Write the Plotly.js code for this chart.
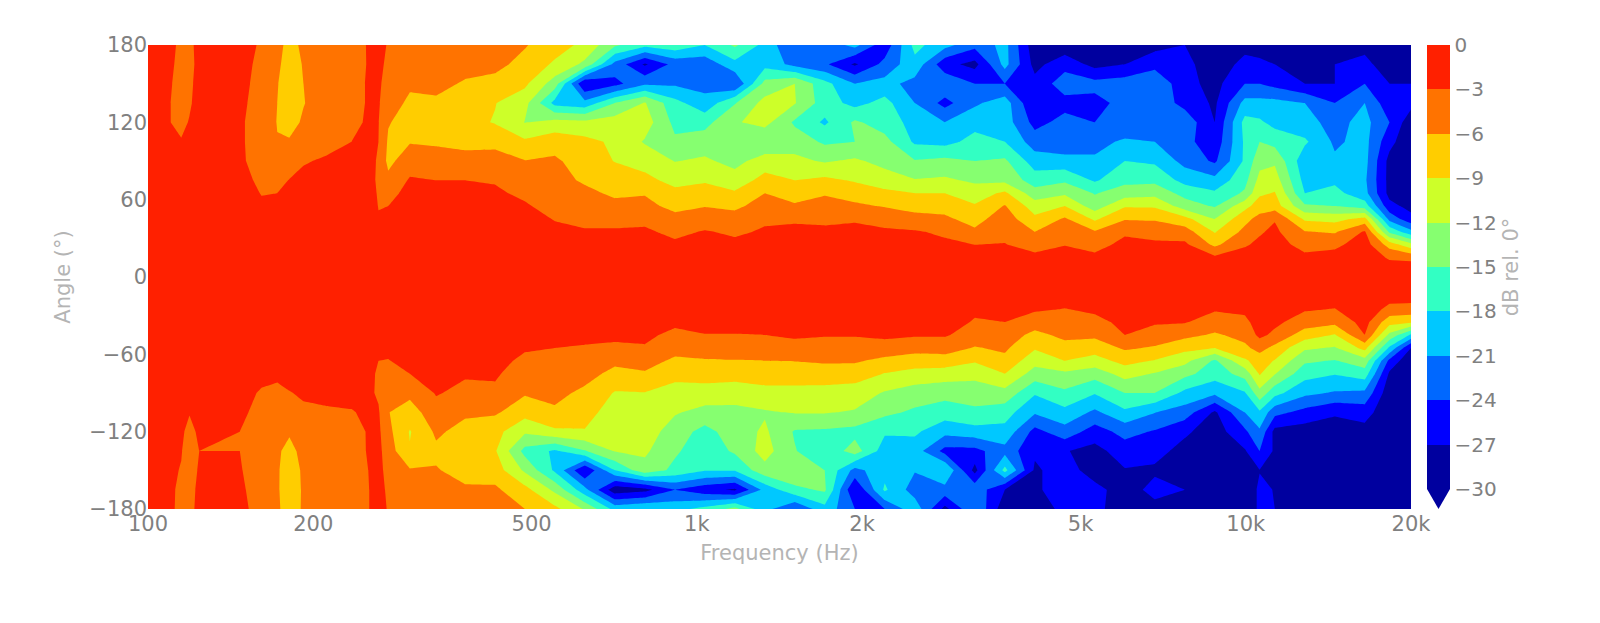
<!DOCTYPE html>
<html>
<head>
<meta charset="utf-8">
<script src="https://cdn.plot.ly/plotly-3.0.1.min.js"></script>
<style>
  html, body { margin: 0; padding: 0; background: #fff; }
  #chart { width: 1600px; height: 623px; }
</style>
</head>
<body>
<div id="chart"></div>
<script>
const angles = [180,165,150,135,120,105,90,75,65,55,45,35,25,15,0,-15,-25,-35,-45,-55,-65,-75,-90,-105,-120,-135,-150,-165,-180];

const freqs = [100,110,115,119,124,147,161,172,181,192,211,235,252,263,274,300,335,378,429,486,551,625,709,804,912,1034,1173,1330,1508,1710,1940,2199,2495,2830,3209,3640,4128,4681,5309,6021,6828,7744,8782,9960,10600,11296,12810,14528,16476,18280,20000];

// dB rel. 0 deg, one line per frequency, angles from +180 down to -180
const dbByFreq = [
  [-2,-2,-2,-2,-2,-2,-1.5,-1.5,-1,-1,-1,-.5,-.5,-.3,0,-.3,-.5,-.5,-1,-1,-1,-1.5,-1.5,-2,-2,-2,-2,-2,-2],
  [-2.5,-2.7,-2.9,-3,-3,-2.5,-2,-1.7,-1.2,-1,-1,-.6,-.5,-.3,0,-.3,-.5,-1,-1,-1,-1.5,-1.5,-2,-2.3,-2.5,-2.6,-2.7,-2.7,-2.7],
  [-3.5,-3.6,-3.6,-3.6,-3.4,-2.9,-2.2,-1.8,-1.3,-1,-1,-.6,-.5,-.3,0,-.3,-.5,-1,-1,-1,-1.5,-1.5,-2,-2.4,-2.7,-2.9,-3.1,-3.4,-3.5],
  [-3.3,-3.4,-3.3,-3.2,-2.9,-2.5,-2,-1.7,-1.2,-1,-1,-.6,-.5,-.3,0,-.3,-.5,-1,-1,-1,-1.5,-1.5,-2.2,-2.9,-3.5,-3.9,-3.8,-3.6,-3.5],
  [-2.6,-2.6,-2.5,-2.4,-2.3,-2,-1.8,-1.5,-1.2,-1,-.9,-.6,-.5,-.3,0,-.3,-.5,-1,-1,-1,-1.5,-1.5,-1.8,-2.2,-2.7,-3,-2.8,-2.6,-2.5],
  [-2,-2,-2.2,-2.4,-2.6,-2.6,-2.6,-2.2,-1.8,-1.5,-1.2,-.8,-.5,-.3,0,-.3,-.5,-1,-1,-1,-1.5,-1.5,-2,-2.6,-3,-3,-2.8,-2.5,-2.3],
  [-3.3,-3.7,-3.9,-4.1,-4.3,-4.3,-4,-3.5,-3.1,-2.6,-2.2,-1.8,-1.5,-.8,0,-.3,-.7,-1,-1.1,-1.3,-1.7,-2.2,-3.3,-3.6,-3.9,-4.3,-4.4,-4.3,-4],
  [-5.5,-5.7,-5.9,-6,-6.1,-5.9,-5,-3.8,-3,-2.4,-2,-1.6,-1.3,-.7,0,-.4,-.8,-1,-1.2,-1.4,-1.7,-2.5,-3.6,-4.2,-5,-5.5,-5.7,-5.7,-5.6],
  [-6.5,-6.7,-7,-7.1,-6.8,-5.8,-4.4,-2.9,-2.3,-1.9,-1.6,-1.3,-1,-.6,0,-.4,-.8,-1,-1.2,-1.4,-1.8,-2.2,-3.1,-4.2,-5.6,-7,-7.3,-7.4,-7.2],
  [-5.7,-5.9,-6,-6.1,-5.7,-4.5,-3.2,-2.4,-2,-1.7,-1.4,-1.2,-1,-.6,0,-.4,-.8,-1,-1.2,-1.4,-1.7,-2.1,-2.7,-3.4,-4.2,-5,-5.6,-5.7,-5.7],
  [-4.5,-4.6,-4.7,-4.8,-4.8,-3.8,-2.7,-2.1,-1.8,-1.5,-1.2,-1,-.8,-.5,0,-.4,-.7,-1,-1.2,-1.4,-1.7,-2.1,-2.6,-3.2,-3.7,-4,-4.2,-4.3,-4.3],
  [-3.6,-3.7,-3.8,-3.8,-3.6,-3,-2.7,-2.2,-1.8,-1.5,-1.2,-1,-.8,-.5,0,-.4,-.7,-1,-1.1,-1.3,-1.6,-2,-2.5,-3.1,-3.5,-3.6,-3.7,-3.7,-3.7],
  [-2.9,-2.9,-2.8,-2.8,-2.7,-2.6,-2.4,-2.1,-1.7,-1.4,-1.2,-1,-.7,-.4,0,-.4,-.7,-1,-1.1,-1.3,-1.6,-2,-2.4,-2.7,-2.9,-2.9,-3,-3.1,-3.1],
  [-2.2,-2.3,-2.5,-2.7,-2.9,-3,-3.2,-3.4,-3.3,-3.1,-2.8,-2.3,-1.8,-1,0,-.5,-.7,-1,-1.5,-2,-3,-3.5,-3.4,-2.7,-2.4,-2.2,-2.1,-2,-2],
  [-3.2,-3.6,-4.2,-4.8,-5.8,-6.4,-6.8,-5.2,-3.9,-3,-2.3,-1.8,-1.5,-1,0,-.6,-.8,-1.2,-1.7,-2.4,-3.1,-4,-5.2,-5.9,-5.2,-4.5,-4,-3.5,-3.2],
  [-4.2,-4.8,-5.6,-6.5,-7.2,-6.2,-4.3,-2.7,-2.1,-1.7,-1.4,-1.2,-1,-.6,0,-.5,-.8,-1.1,-1.5,-1.8,-2.2,-3,-5.2,-7.5,-9.2,-8.8,-5.7,-4.8,-4.2],
  [-4,-4.4,-5.2,-6.5,-7.4,-6.4,-4.7,-3,-2.4,-1.9,-1.6,-1.3,-1,-.6,0,-.5,-.8,-1.1,-1.4,-1.7,-2,-2.4,-2.8,-4,-5.5,-6.6,-5.8,-4.7,-4.2],
  [-4,-5,-6.3,-7.2,-8,-6.8,-5,-3,-2.6,-2.1,-1.7,-1.3,-1,-.6,0,-.5,-.8,-1.1,-1.4,-1.7,-2.1,-2.7,-3.7,-5.5,-7,-7.5,-7,-5.6,-5],
  [-4,-5.3,-6.8,-8.9,-9.2,-6.8,-4.8,-3.2,-2.6,-2.2,-1.8,-1.4,-1.1,-.7,0,-.5,-.8,-1.1,-1.4,-1.8,-2.1,-2.6,-3.6,-5.6,-8,-8.7,-7.5,-5.5,-4.9],
  [-5.8,-6.8,-8.4,-11,-12.1,-8.5,-5.9,-4.4,-3.5,-2.7,-2.2,-1.8,-1.3,-.8,0,-.8,-1.1,-1.5,-2.2,-2.7,-3.6,-4.6,-5.7,-7.8,-11.5,-16,-12.5,-8,-6],
  [-7.6,-9.5,-13.5,-19,-10.9,-7.3,-5.5,-5,-4.7,-4,-3.1,-2.5,-2,-1.1,0,-.9,-1.3,-1.7,-2.3,-3,-3.7,-4.3,-5,-6.6,-9.5,-18.5,-18.5,-12.7,-8.2],
  [-9.8,-12.7,-27,-20,-11.2,-8.2,-7.5,-6.4,-5.3,-4.4,-3.5,-2.8,-2.2,-1.2,0,-.9,-1.3,-1.7,-2.1,-3.3,-3.9,-4.7,-6.8,-7.8,-9.2,-15.2,-27,-20,-12.3],
  [-14.5,-22,-25,-15,-10.5,-9.5,-9.1,-7.6,-6.5,-5.2,-3.8,-2.7,-2.2,-1.2,0,-1,-1.4,-1.8,-2.4,-3.5,-5.2,-7,-9.2,-10.5,-11,-11.8,-18,-29,-19],
  [-17,-27.5,-21.5,-11.8,-10.5,-12.3,-10,-8.3,-6.2,-5.2,-3.6,-2.6,-2,-1.1,0,-1,-1.4,-1.9,-2.5,-3.2,-4.9,-6.3,-9.1,-10.8,-10.4,-11.5,-13,-28,-18],
  [-16,-23,-21.5,-17,-15.8,-14.5,-12.1,-9.8,-8.3,-6.8,-5.1,-3.6,-2.5,-1.3,0,-1,-1.5,-2.5,-3.6,-5,-6.5,-8.2,-10,-11.7,-13.5,-14.5,-15.8,-24,-19],
  [-18,-23,-22,-20,-16,-13.5,-11.5,-9.3,-7.8,-6.1,-4.5,-2.8,-2,-1.1,0,-1,-1.5,-2,-3.1,-4.8,-6.2,-7.8,-10.2,-13,-16,-17,-17.8,-26,-17],
  [-14.5,-19,-24,-15.2,-12.3,-13.5,-13,-10.6,-8.6,-6.6,-4.8,-3.4,-2.4,-1.3,0,-1,-1.4,-2,-3.1,-4.7,-6.1,-7.6,-11,-12.6,-13.5,-14.5,-17.8,-27.5,-14],
  [-19,-19,-14,-11,-11,-14.7,-10.5,-8,-6,-4.8,-3.4,-2.7,-2,-1.1,0,-.9,-1.3,-1.8,-3,-4.4,-6,-7.6,-9.9,-12.3,-11.5,-10.8,-13,-20,-20],
  [-24,-22,-12,-11.8,-15.5,-13.3,-11.3,-9,-7.3,-5.6,-3.3,-2.5,-1.9,-1.1,0,-1,-1.6,-2.1,-2.7,-3.7,-5.9,-7.9,-9.7,-11.8,-15.3,-14.8,-12.3,-15.8,-24],
  [-23,-23.5,-17,-16.5,-18.5,-15.5,-12.3,-8.3,-6.3,-4.8,-3.4,-2.6,-2,-1.1,0,-1.1,-1.7,-2.2,-2.8,-4.2,-5.6,-7.5,-10,-11.8,-15.5,-17.5,-15,-14.5,-19],
  [-20,-27.5,-21,-19,-14.5,-15,-11.5,-9.3,-7.2,-5.5,-3.2,-2.5,-1.9,-1.1,0,-1.1,-1.7,-2.2,-2.8,-4.2,-5.6,-7.7,-10.3,-12.3,-16,-13.5,-22,-27,-24],
  [-26,-23,-20,-17,-16.5,-14,-13,-10.5,-8.3,-6.2,-3.9,-2.6,-2,-1.1,0,-1,-1.4,-1.9,-2.5,-4,-6.8,-9.1,-12.3,-14.3,-17.6,-19.5,-19,-17.5,-24],
  [-17,-19,-22,-21,-19,-18.5,-14.8,-11.8,-9,-7,-5,-2.7,-2,-1.1,0,-1,-1.5,-2,-2.7,-4.8,-7.5,-10,-13.5,-15.5,-17.5,-19.5,-20.8,-22.5,-19],
  [-20,-26,-21.5,-25,-21,-19,-14.2,-11.5,-9,-7,-5.5,-3.5,-2.4,-1.3,0,-1,-1.5,-2,-2.7,-4.7,-7.3,-10.5,-14,-16.5,-20,-25,-18,-22,-28],
  [-23,-28,-24,-21.5,-19,-17,-15,-12.5,-10.5,-8.7,-7,-5.5,-3,-1.6,0,-1.7,-2.6,-3.2,-4.3,-6.2,-8.7,-10.9,-13.9,-15.5,-19.2,-25,-28,-22,-21],
  [-20,-20,-24,-19.5,-19.5,-18,-14.5,-12.7,-8.4,-5.8,-4.5,-3.6,-2.9,-1.6,0,-1.7,-2.3,-3,-4.5,-5.5,-6.8,-9,-13,-16.7,-19,-22,-17,-27,-29],
  [-29,-28,-26,-27,-25,-22.5,-19.5,-16.5,-13.7,-10.5,-8.3,-6,-3.9,-2.4,0,-1.8,-2.6,-4.6,-6.8,-8.7,-10.9,-13.3,-17.7,-20.6,-25,-26.5,-27.5,-28,-29],
  [-29,-25,-22.5,-25,-23,-23,-20,-15.5,-12.5,-9,-5.6,-4.3,-3.1,-1.8,0,-1.9,-3.1,-4.2,-5.3,-7,-9,-12.6,-15.6,-18.9,-22.2,-26.8,-25.5,-24,-26],
  [-27,-28,-23,-25,-24,-22,-20.5,-18.4,-15.2,-13.6,-9.5,-5.7,-3.9,-2.4,0,-1.5,-2.5,-3.8,-5.4,-7.6,-10.2,-13.7,-17.8,-21.6,-25.4,-28,-28.5,-26,-26],
  [-28,-27,-22.5,-23,-23.5,-20.5,-18,-15.8,-13.5,-9.3,-6.2,-3.4,-2.3,-1.3,0,-1,-1.5,-2.3,-3,-5.6,-8,-10.8,-15,-18.6,-23,-25.5,-27.2,-28.5,-29],
  [-28,-25,-21.5,-22,-21,-21,-18.5,-15.7,-13,-9.4,-6.3,-4.2,-2.4,-1.3,0,-1.2,-2,-2.7,-4.2,-6.3,-9.2,-12.2,-15,-20.9,-24.3,-26,-27.5,-26,-28],
  [-27,-26,-26,-25,-22,-23,-22,-19,-16,-13.5,-8,-4.6,-2.4,-1.3,0,-1.2,-2,-2.8,-5.2,-8.1,-11.1,-14.1,-18.8,-22.4,-26.5,-28,-28,-27,-28.5],
  [-29,-29,-28,-27.5,-27,-26,-24.5,-20,-17.5,-15.3,-12,-9.2,-6.6,-2.4,0,-1.8,-2.7,-4.4,-6.4,-9,-15.5,-16.6,-20.4,-27.5,-28.5,-29,-29,-29,-29],
  [-28,-26,-24,-20,-17,-17.5,-17.5,-16,-14.5,-10,-6.9,-5.2,-3.3,-1.8,0,-1.4,-2.4,-3.7,-5.1,-6.6,-9.5,-13.8,-18.3,-21,-24.6,-27.3,-28.5,-29,-29],
  [-29,-26,-24,-20,-17.5,-15,-13,-11,-9.5,-7.5,-5,-3.3,-2.4,-1.4,0,-.8,-1.2,-1.7,-2.3,-5,-7.6,-8.7,-13,-18.5,-21.5,-24,-27.1,-26.5,-26.5],
  [-29,-27,-25,-20,-19,-16,-12.5,-10.5,-8.8,-7.5,-3.2,-2.4,-1.9,-1.2,0,-.8,-1.4,-2.3,-3.7,-6.8,-9.2,-11.8,-17,-23,-28,-27.5,-27.2,-27.1,-27],
  [-29,-28,-27,-21,-20,-17.5,-20,-19,-18,-14.5,-9.5,-5.8,-3.9,-2.4,0,-1.6,-2.7,-4.5,-7.5,-11.5,-14.5,-16.8,-20.3,-25,-28.5,-29,-29,-29,-29],
  [-29,-27,-27,-24,-22,-21.5,-20.5,-18.6,-17,-15,-10,-6.3,-3.6,-2,0,-1.6,-3.1,-5.2,-9.2,-12.3,-15.2,-17.8,-21.3,-26.6,-28.5,-29,-29,-29,-29],
  [-28,-26,-24,-21,-20,-20,-20,-20.5,-20,-16.5,-8,-2.6,-1.6,-1,0,-.8,-1.1,-1.9,-3,-8,-13.2,-16.4,-21.7,-25.6,-28.2,-29.5,-29.5,-29.5,-29.5],
  [-29,-29,-27,-26,-24,-26,-28,-28,-28,-26,-22,-15.5,-7.2,-3.4,0,-1.8,-3.9,-7.9,-12.8,-18.6,-24.8,-27.5,-29,-29.5,-29.5,-29.5,-29.5,-29.5,-29.5],
  [-29.5,-29,-27,-26,-29,-29.5,-30,-30,-29.5,-28,-26,-20,-11,-3.7,0,-1.9,-4,-8.6,-18.5,-27,-29.5,-30,-30,-30,-30,-30,-30,-30,-30]
];

// one colour per 3 dB band, from -30 up to 0
const bandColors = ['#00009f','#0000ff','#0068ff','#00c8ff','#32ffc3','#86ff70','#cdff29','#ffcd00','#ff7300','#ff2000'];

const xTickVals = [100,200,500,1000,2000,5000,10000,20000];
const xTickText = ['100','200','500','1k','2k','5k','10k','20k'];
const yTickVals = [-180,-120,-60,0,60,120,180];
const cbTickVals = [0,-3,-6,-9,-12,-15,-18,-21,-24,-27,-30];

const z = angles.map((_, i) => dbByFreq.map(col => col[i]));

const colorscale = [];
bandColors.forEach((c, i) => {
  colorscale.push([i / bandColors.length, c]);
  colorscale.push([(i + 1) / bandColors.length, c]);
});

const FONT = 'DejaVu Sans, sans-serif';
const TICK = '#808080';
const LABEL = '#b4b4b4';

// plot area in page pixels
const PLOT = { l: 148, r: 1411, t: 45, b: 509 };
const W = PLOT.r - PLOT.l, H = PLOT.b - PLOT.t;
const CB = { l: 1427, r: 1450, bottom: 489 };
const px = v => (v - PLOT.l) / W;
const py = v => (PLOT.b - v) / H;

const trace = {
  type: 'contour',
  x: freqs,
  y: angles,
  z,
  zmin: -30,
  zmax: 0,
  autocontour: false,
  contours: { start: -30, end: 0, size: 3, coloring: 'fill', showlines: false },
  line: { width: 0, smoothing: 0 },
  colorscale,
  hoverinfo: 'skip',
  colorbar: {
    x: px(CB.l), xanchor: 'left', xpad: 0,
    y: 1, yanchor: 'top', ypad: 0,
    lenmode: 'pixels', len: CB.bottom - PLOT.t,
    thicknessmode: 'pixels', thickness: CB.r - CB.l,
    outlinewidth: 0, borderwidth: 0,
    tickmode: 'array', tickvals: cbTickVals,
    ticks: '', ticklen: 0,
    tickfont: { family: FONT, size: 20, color: TICK },
    title: { text: 'dB rel. 0°', side: 'right', font: { family: FONT, size: 21, color: LABEL } }
  }
};

const layout = {
  width: 1600,
  height: 623,
  margin: { l: PLOT.l, r: 1600 - PLOT.r, t: PLOT.t, b: 623 - PLOT.b, pad: 0 },
  paper_bgcolor: '#fff',
  plot_bgcolor: '#fff',
  font: { family: FONT, color: TICK },
  xaxis: {
    type: 'log',
    range: [2, Math.log10(20000)],
    tickmode: 'array', tickvals: xTickVals, ticktext: xTickText,
    ticks: '', showgrid: false, zeroline: false, showline: false,
    tickfont: { family: FONT, size: 21, color: TICK },
    title: { text: 'Frequency (Hz)', font: { family: FONT, size: 21, color: LABEL }, standoff: 10 }
  },
  yaxis: {
    range: [-180, 180],
    tickmode: 'array', tickvals: yTickVals,
    ticks: '', showgrid: false, zeroline: false, showline: false,
    tickfont: { family: FONT, size: 21, color: TICK },
    title: { text: 'Angle (°)', font: { family: FONT, size: 21, color: LABEL }, standoff: 12 }
  },
  shapes: [{
    type: 'path', xref: 'paper', yref: 'paper', layer: 'above',
    path: `M ${px(CB.l)} ${py(CB.bottom)} L ${px(CB.r)} ${py(CB.bottom)} L ${px((CB.l + CB.r) / 2)} ${py(PLOT.b)} Z`,
    fillcolor: bandColors[0], line: { width: 0 }
  }]
};

Plotly.newPlot('chart', [trace], layout, { staticPlot: true, displayModeBar: false });
</script>
</body>
</html>
